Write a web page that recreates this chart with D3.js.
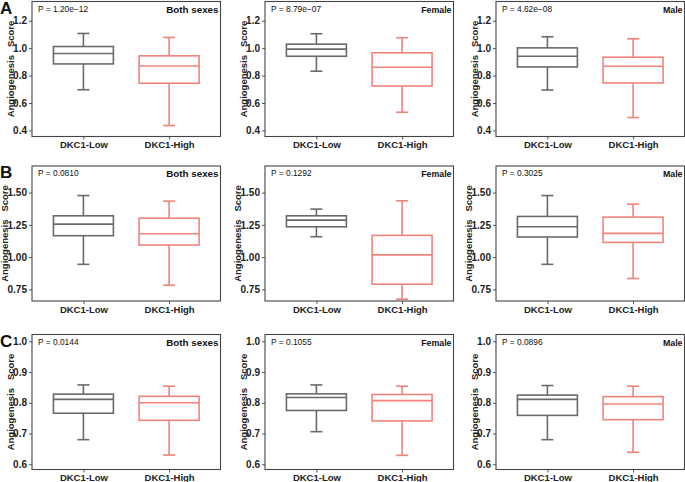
<!DOCTYPE html>
<html><head><meta charset="utf-8">
<script src="https://cdn.jsdelivr.net/npm/d3@7/dist/d3.min.js"></script>
<style>
body{margin:0;background:#fff;}
svg{display:block;font-family:"Liberation Sans",Arial,sans-serif;}
</style></head>
<body><svg id="chart" width="685" height="482"></svg>
<script>
const groups = ["DKC1-Low", "DKC1-High"];
const rowLetters = ["A", "B", "C"];
const sexes = ["Both sexes", "Female", "Male"];
const pValues = [
  ["P = 1.20e\u221212", "P = 8.79e\u221207", "P = 4.62e\u221208"],
  ["P = 0.0810", "P = 0.1292", "P = 0.3025"],
  ["P = 0.0144", "P = 0.1055", "P = 0.0896"]
];
// [lower whisker, Q1, median, Q3, upper whisker]
const lowStats = [
  [[0.697,0.885,0.961,1.012,1.107],[0.832,0.941,0.993,1.029,1.105],[0.695,0.863,0.941,1.002,1.083]],
  [[0.944,1.166,1.256,1.320,1.477],[1.158,1.235,1.287,1.320,1.372],[0.944,1.156,1.235,1.315,1.477]],
  [[0.680,0.766,0.811,0.828,0.858],[0.706,0.775,0.817,0.829,0.858],[0.680,0.759,0.811,0.825,0.856]]
];
const highStats = [
  [[0.436,0.744,0.870,0.944,1.078],[0.533,0.724,0.861,0.966,1.076],[0.494,0.746,0.868,0.934,1.068]],
  [[0.782,1.094,1.181,1.302,1.434],[0.674,0.790,1.017,1.168,1.436],[0.834,1.114,1.184,1.310,1.410]],
  [[0.630,0.743,0.800,0.821,0.854],[0.629,0.741,0.807,0.827,0.854],[0.639,0.745,0.796,0.820,0.854]]
];
const yTicks = [[0.4,0.6,0.8,1.0,1.2],[0.75,1.00,1.25,1.50],[0.6,0.7,0.8,0.9,1.0]];
const yTickFormats = [".1f", ".2f", ".1f"];
const yLimits = [[0.356,1.340],[0.660,1.706],[0.583,1.022]];
const yTitle = "Angiogenesis   Score";

const colors = ["#6a6a6a", "#f2837b"];
const colLeft = [32, 265, 496];
const rowTop = [1.5, 166, 334.5];
const pw = 188.5, ph = 135;

const svg = d3.select("#chart");

rowLetters.forEach((letter, r) => {
  svg.append("text").attr("x", 0).attr("y", rowTop[r] + 12)
    .attr("font-size", 17).attr("font-weight", "bold").attr("fill", "#111").text(letter);

  sexes.forEach((sex, c) => {
    const g = svg.append("g").attr("transform", `translate(${colLeft[c]},${rowTop[r]})`);
    const x = d3.scalePoint().domain(groups).range([0, pw]).padding(0.6);
    const step = x.step();
    const bw = step * 0.7;
    const y = d3.scaleLinear().domain(yLimits[r]).range([ph, 0]);

    // y axis
    const ya = g.append("g").call(d3.axisLeft(y).tickValues(yTicks[r]).tickFormat(d3.format(yTickFormats[r])).tickSize(3).tickPadding(2));
    ya.select(".domain").remove();
    ya.selectAll(".tick line").attr("stroke", "#555");
    ya.selectAll(".tick text").attr("font-size", 10).attr("font-weight", "bold").attr("fill", "#222")
      .attr("font-family", "Liberation Sans, Arial, sans-serif");
    const labelLeft = ya.node().getBBox().x;

    // x axis
    const xa = g.append("g").attr("transform", `translate(0,${ph})`).call(d3.axisBottom(x).tickSize(3).tickPadding(2));
    xa.select(".domain").remove();
    xa.selectAll(".tick line").attr("stroke", "#555");
    xa.selectAll(".tick text").attr("font-size", 9.5).attr("font-weight", "bold").attr("fill", "#222")
      .attr("font-family", "Liberation Sans, Arial, sans-serif");

    // y title
    g.append("text").attr("transform", `translate(${labelLeft - 2.5},${ph/2}) rotate(-90)`)
      .attr("text-anchor", "middle").attr("dy", "0.35em").style("white-space", "pre")
      .attr("font-size", 9.5).attr("font-weight", "bold").attr("fill", "#222").text(yTitle);

    // boxes
    const statsList = [lowStats[r][c], highStats[r][c]];
    groups.forEach((grp, i) => {
      const s = statsList[i];
      const cx = x(grp);
      const col = colors[i];
      const bg = g.append("g").attr("stroke", col).attr("stroke-width", 1.6).attr("fill", "none");
      bg.append("line").attr("x1", cx).attr("x2", cx).attr("y1", y(s[3])).attr("y2", y(s[4]));
      bg.append("line").attr("x1", cx).attr("x2", cx).attr("y1", y(s[0])).attr("y2", y(s[1]));
      bg.append("line").attr("x1", cx - bw * 0.1).attr("x2", cx + bw * 0.1).attr("y1", y(s[4])).attr("y2", y(s[4]));
      bg.append("line").attr("x1", cx - bw * 0.1).attr("x2", cx + bw * 0.1).attr("y1", y(s[0])).attr("y2", y(s[0]));
      bg.append("rect").attr("x", cx - bw / 2).attr("width", bw)
        .attr("y", y(s[3])).attr("height", y(s[1]) - y(s[3])).attr("fill", "#fff");
      bg.append("line").attr("x1", cx - bw / 2).attr("x2", cx + bw / 2).attr("y1", y(s[2])).attr("y2", y(s[2]));
    });

    // frame
    g.append("rect").attr("x", 0).attr("y", 0).attr("width", pw).attr("height", ph)
      .attr("fill", "none").attr("stroke", "#444").attr("stroke-width", 1.1);

    // annotations
    g.append("text").attr("x", 6).attr("y", 10).attr("font-size", 8.4).attr("fill", "#111").text(pValues[r][c]);
    g.append("text").attr("x", pw - 2).attr("y", 11).attr("text-anchor", "end")
      .attr("font-size", c === 0 ? 9.8 : 8.8).attr("font-weight", "bold").attr("fill", "#111").text(sex);
  });
});
</script>
</body></html>
